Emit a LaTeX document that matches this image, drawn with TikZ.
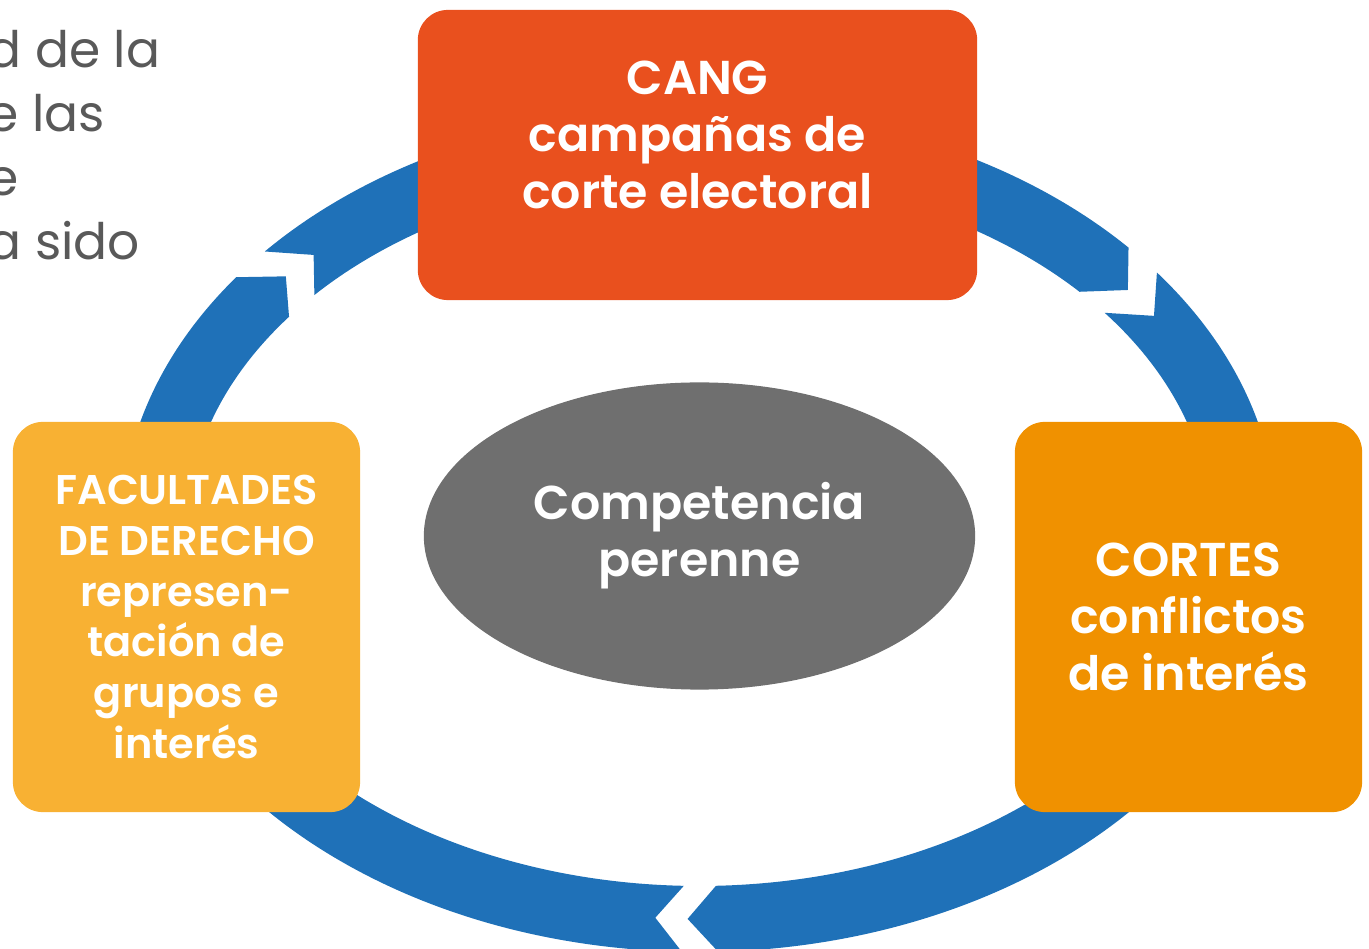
\documentclass[tikz,border=0pt]{standalone}
\usepackage{fontspec}
\setmainfont{Poppins}[BoldFont={Poppins SemiBold}]
\usepackage[HTML]{xcolor}
\usepackage{tikz}
\usetikzlibrary{positioning, shapes.geometric}

\definecolor{ringblue}{HTML}{1F71B8}
\definecolor{cangred}{HTML}{E9501E}
\definecolor{cortesorange}{HTML}{F09100}
\definecolor{facyellow}{HTML}{F8B133}
\definecolor{coregray}{HTML}{6F6F6F}
\definecolor{textgray}{HTML}{595959}

% one chevron piece of the ring: tail angle, notch angle, head angle, tip angle
\newcommand{\ringpiece}[4]{%
  \fill[ringblue] ({699+578*cos(#1)},{418+422*sin(#1)})
    arc[start angle=#1, end angle=#3, x radius=578, y radius=422]
    -- ({699+545*cos(#4)},{418+389*sin(#4)})
    -- ({699+512*cos(#3)},{418+356*sin(#3)})
    arc[start angle=#3, end angle=#1, x radius=512, y radius=356]
    -- ({699+545*cos(#2)},{418+389*sin(#2)}) -- cycle;}

\begin{document}
\begin{tikzpicture}[x=0.01cm, y=0.01cm,
    box/.style={rectangle, rounded corners=0.3cm, inner sep=0pt},
    boxtext/.style={text=white, align=center, font=\bfseries\fontsize{13.5}{16.2}\selectfont},
    smalltext/.style={text=white, align=center, font=\bfseries\fontsize{11.8}{14.5}\selectfont}] % global styles

    \useasboundingbox (0,0) rectangle (1369,948);
    \clip (0,0) rectangle (1369,948);

    % 1. Slide text cut off at the left edge
    \node[anchor=north west, inner sep=0pt, align=left, text=textgray,
          font=\fontsize{14.3}{18.2}\selectfont] (slide) at (-13,918) {d de la\\e las\\e\\a sido};

    % 2. Blue chevron ring (clockwise)
    \ringpiece{138.7}{135}{42}{38.1}
    \ringpiece{37.6}{33.4}{-88.1}{-91.2}
    \ringpiece{-91.7}{-94.6}{-216.8}{-220.7}

    % 3. The three boxes on the ring
    \node[box, fill=cangred, minimum width=5.59cm, minimum height=2.9cm] (cang) at (697.5,793) {};
    \node[boxtext] (cangtxt) at ([yshift=0.2cm]cang.center) {CANG\\campañas de\\corte electoral};

    \node[box, fill=cortesorange, minimum width=3.47cm, minimum height=3.9cm] (cortes) at (1188.5,331) {};
    \node[boxtext] (cortestxt) at (cortes.center) {CORTES\\conflictos\\de interés};

    \node[box, fill=facyellow, minimum width=3.47cm, minimum height=3.9cm] (fac) at (186.5,331) {};
    \node[smalltext] (factxt) at (fac.center) {FACULTADES\\DE DERECHO\\represen-\\tación de\\grupos e\\interés};

    % 4. Centre ellipse
    \node[ellipse, fill=coregray, inner sep=0pt, minimum width=5.51cm, minimum height=3.07cm] (core) at (699.5,412) {};
    \node[boxtext] (coretxt) at (core.center) {Competencia\\perenne};
\end{tikzpicture}
\end{document}
